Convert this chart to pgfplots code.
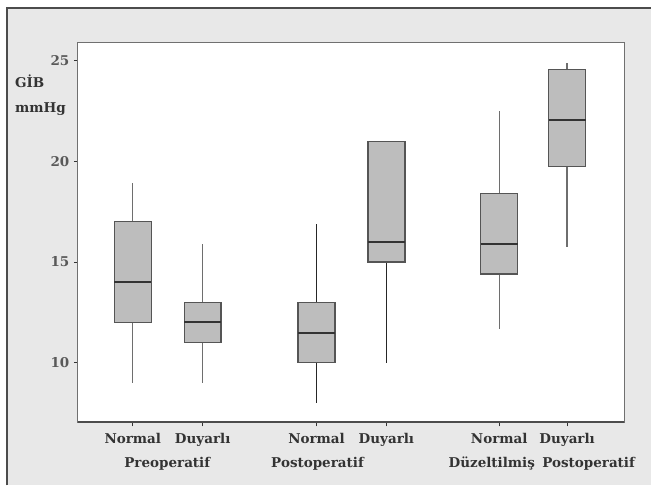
\documentclass[border=0pt]{standalone}
\usepackage{fontspec}
\setmainfont{DejaVu Serif}
\usepackage{pgfplots}
\pgfplotsset{compat=1.18}
\usepgfplotslibrary{statistics}
\definecolor{bg}{HTML}{E8E8E8}
\definecolor{boxfill}{HTML}{BDBDBD}
\definecolor{edge}{HTML}{555555}
\definecolor{whisk}{HTML}{6E6E6E}
\definecolor{txt}{HTML}{333333}
\definecolor{frame}{HTML}{707070}
\begin{document}
\begin{tikzpicture}
\fill[white] (0pt,0pt) rectangle (652pt,486pt);
\fill[bg] (7pt,0pt) rectangle (652pt,478pt);
\draw[line width=2pt, color=black!70] (7pt,0pt) -- (7pt,478pt) -- (652pt,478pt);
\begin{axis}[
  at={(78pt,63pt)}, anchor=south west,
  scale only axis, width=547pt, height=380pt,
  xmin=78, xmax=625, ymin=7.04, ymax=25.88,
  axis background/.style={fill=white},
  axis line style={draw=frame, line width=1.1pt},
  clip=false,
  ytick={10,15,20,25},
  xtick={133,203,317,387,500,568},
  xticklabels={Normal,Duyarlı,Normal,Duyarlı,Normal,Duyarlı},
  /pgf/number format/assume math mode=true,
  tick align=outside,
  major tick length=4pt,
  xtick pos=bottom, ytick pos=left,
  tick style={draw=txt, line width=0.9pt},
  xticklabel style={font=\fontsize{13.5}{15}\selectfont\bfseries, text=txt, anchor=base, yshift=-17pt},
  yticklabel style={font=\fontsize{13.5}{15}\selectfont\bfseries, text=black!65, xshift=-1pt},
  boxplot/draw direction=y,
  boxplot/every box/.style={fill=boxfill, draw=edge, line width=1.4pt},
  boxplot/every median/.style={draw=black!80, line width=2pt},
  boxplot/every whisker/.style={draw=whisk, line width=1.3pt},
  boxplot/box extend=37,
  boxplot/whisker extend=0,
]
\addplot[boxplot prepared={lower whisker=9.0, lower quartile=12.0, median=14.0, upper quartile=17.0, upper whisker=18.9, draw position=133}] coordinates {};
\addplot[boxplot prepared={lower whisker=9.0, lower quartile=11.0, median=12.0, upper quartile=13.0, upper whisker=15.9, draw position=203}] coordinates {};
\addplot[boxplot prepared={lower whisker=8.0, lower quartile=10.0, median=11.5, upper quartile=13.0, upper whisker=16.9, draw position=317}, boxplot/every whisker/.style={draw=black!85, line width=1.5pt}] coordinates {};
\addplot[boxplot prepared={lower whisker=10.0, lower quartile=15.0, median=16.0, upper quartile=21.0, upper whisker=21.0, draw position=387}, boxplot/every whisker/.style={draw=black!85, line width=1.5pt}] coordinates {};
\addplot[boxplot prepared={lower whisker=11.7, lower quartile=14.4, median=15.9, upper quartile=18.4, upper whisker=22.5, draw position=500}] coordinates {};
\addplot[boxplot prepared={lower whisker=15.75, lower quartile=19.75, median=22.05, upper quartile=24.55, upper whisker=24.87, draw position=568}] coordinates {};
\draw[line width=1.8pt, color=black!70] (rel axis cs:0,0) -- (rel axis cs:1,0);
\end{axis}
\begin{scope}[font=\fontsize{13.5}{15}\selectfont\bfseries, text=txt]
\node[anchor=base] at (167.5pt,18pt) {Preoperatif};
\node[anchor=base] at (318pt,18pt) {Postoperatif};
\node[anchor=base] at (492.5pt,18pt) {Düzeltilmiş};
\node[anchor=base] at (589.5pt,18pt) {Postoperatif};
\node[anchor=base west, inner sep=0pt] at (15pt,398pt) {GİB};
\node[anchor=base west, inner sep=0pt] at (15pt,373pt) {mmHg};
\end{scope}
\end{tikzpicture}
\end{document}
